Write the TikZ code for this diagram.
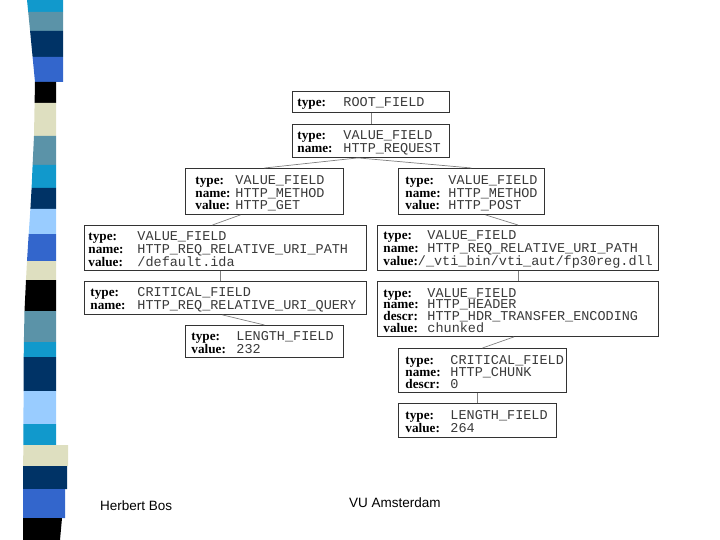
\documentclass[tikz,border=0pt]{standalone}
\usepackage{fontspec}
\setmainfont{Liberation Serif}
\newfontfamily\monof{Liberation Mono}
\newfontfamily\sansf{Liberation Sans}
\definecolor{valgray}{HTML}{3A3A3A}
\definecolor{scyan}{HTML}{1199CC}
\definecolor{steal}{HTML}{5B93A8}
\definecolor{snavy}{HTML}{003366}
\definecolor{sblue}{HTML}{3366CC}
\definecolor{sbeige}{HTML}{DEDFC0}
\definecolor{slight}{HTML}{99CCFF}
\newlength\tabw
\newcommand\lbl[1]{{\bfseries #1}}
\newcommand\rw[2]{\makebox[\tabw][l]{\lbl{#1}}{\monof\fontsize{13.5}{11.8}\selectfont\color{valgray}#2}\par}
\newcommand\rwn[2]{\lbl{#1}{\monof\fontsize{13.5}{11.8}\selectfont\color{valgray}#2}\par}
\newcommand\bt[4]{\begin{minipage}{\dimexpr#1pt-#2pt-#2pt\relax}\vspace*{3pt}\setlength\tabw{#3pt}\fontsize{13.2}{11.8}\selectfont #4\end{minipage}}
\tikzset{
  box/.style={draw=black!80, line width=0.9pt, inner sep=0pt, fill=white, anchor=north west},
  conn/.style={draw=black!50, line width=0.7pt},
  foot/.style={font=\sansf\fontsize{13.5}{16}\selectfont, inner sep=0pt, anchor=west}
}
\begin{document}
\begin{tikzpicture}[x=1pt,y=-1pt]
\useasboundingbox (0,0) rectangle (720,540);
% left stripe
\fill[scyan]  (27,0) -- (63,0) -- (63,12) -- (28.2,12) -- cycle;
\fill[steal]  (28.2,12) -- (63,12) -- (63,31) -- (30.1,31) -- cycle;
\fill[snavy]  (30.1,31) -- (63,31) -- (63,57) -- (32.6,57) -- cycle;
\fill[sblue]  (32.6,57) -- (63,57) -- (63,82) -- (35,82) -- cycle;
\fill[black]  (35,82) -- (56,82) -- (56,103) -- (34.6,103) -- cycle;
\fill[sbeige] (34.6,103) -- (56,103) -- (56,136) -- (34,136) -- cycle;
\fill[steal]  (34,136) -- (56,136) -- (56,165) -- (32.6,165) -- cycle;
\fill[scyan]  (32.6,165) -- (56,165) -- (56,188) -- (31.6,188) -- cycle;
\fill[snavy]  (31.6,188) -- (56,188) -- (56,209) -- (30.4,209) -- cycle;
\fill[slight] (30.4,209) -- (56,209) -- (56,234) -- (28.7,234) -- cycle;
\fill[sblue]  (28.7,234) -- (56,234) -- (56,261) -- (27,261) -- cycle;
\fill[sbeige] (27,261) -- (56,261) -- (56,280) -- (26,280) -- cycle;
\fill[black]  (26,280) -- (56,280) -- (56,311) -- (24.5,311) -- cycle;
\fill[steal]  (24.5,311) -- (56,311) -- (56,342) -- (23.9,342) -- cycle;
\fill[scyan]  (23.9,342) -- (56,342) -- (56,357) -- (23.7,357) -- cycle;
\fill[snavy]  (23.7,357) -- (56,357) -- (56,391) -- (23.6,391) -- cycle;
\fill[slight] (23.6,391) -- (56,391) -- (56,424) -- (23.4,424) -- cycle;
\fill[scyan]  (23.4,424) -- (56,424) -- (56,445) -- (23.3,445) -- cycle;
\fill[sbeige] (23.3,445) -- (68,445) -- (68,466) -- (23.2,466) -- cycle;
\fill[snavy]  (23.2,466) -- (67,466) -- (67,489) -- (23.1,489) -- cycle;
\fill[sblue]  (23.1,489) -- (65,489) -- (65,518) -- (23,518) -- cycle;
\fill[black]  (23,518) -- (62,518) -- (60,540) -- (23,540) -- cycle;
% boxes
\node[box, minimum width=157pt, minimum height=21pt] (A) at (292,91)
  {\bt{157}{5}{46}{\rw{type:}{ROOT\_FIELD}}};
\node[box, minimum width=157pt, minimum height=33pt] (B) at (292,124)
  {\bt{157}{5}{46}{\rw{type:}{VALUE\_FIELD}\rw{name:}{HTTP\_REQUEST}}};
\node[box, minimum width=158pt, minimum height=46pt] (C) at (185,168)
  {\bt{158}{10}{40}{\rw{type:}{VALUE\_FIELD}\rw{name:}{HTTP\_METHOD}\rw{value:}{HTTP\_GET}}};
\node[box, minimum width=146pt, minimum height=46pt] (D) at (398,168)
  {\bt{146}{7}{43}{\rw{type:}{VALUE\_FIELD}\rw{name:}{HTTP\_METHOD}\rw{value:}{HTTP\_POST}}};
\node[box, minimum width=282pt, minimum height=45pt] (E) at (84,225)
  {\bt{282}{4}{49}{\rw{type:}{VALUE\_FIELD}\rw{name:}{HTTP\_REQ\_RELATIVE\_URI\_PATH}\rw{value:}{/default.ida}}};
\node[box, minimum width=281pt, minimum height=45pt] (F) at (377,225)
  {\bt{281}{6}{44}{\rw{type:}{VALUE\_FIELD}\rw{name:}{HTTP\_REQ\_RELATIVE\_URI\_PATH}\rwn{value:}{/\_vti\_bin/vti\_aut/fp30reg.dll}}};
\node[box, minimum width=282pt, minimum height=33pt] (G) at (84,281)
  {\bt{282}{6}{47}{\rw{type:}{CRITICAL\_FIELD}\rw{name:}{HTTP\_REQ\_RELATIVE\_URI\_QUERY}}};
\node[box, minimum width=281pt, minimum height=55pt] (H) at (377,281)
  {\bt{281}{6}{44}{\rw{type:}{VALUE\_FIELD}\rw{name:}{HTTP\_HEADER}\rw{descr:}{HTTP\_HDR\_TRANSFER\_ENCODING}\rw{value:}{chunked}}};
\node[box, minimum width=158pt, minimum height=32pt] (I) at (185,325)
  {\bt{158}{6}{45}{\rw{type:}{LENGTH\_FIELD}\rw{value:}{232}}};
\node[box, minimum width=168pt, minimum height=44pt] (J) at (398,348)
  {\bt{168}{7}{45}{\rw{type:}{CRITICAL\_FIELD}\rw{name:}{HTTP\_CHUNK}\rw{descr:}{0}}};
\node[box, minimum width=158pt, minimum height=34pt] (K) at (398,403)
  {\bt{158}{7}{45}{\rw{type:}{LENGTH\_FIELD}\rw{value:}{264}}};
% connectors
\draw[conn] (A.south) -- (B.north);
\draw[conn] ([xshift=-13pt]B.south) -- (C.north);
\draw[conn] ([xshift=-13pt]B.south) -- (D.north);
\draw[conn] ([xshift=-24pt]C.south) -- ([xshift=-13pt]E.north);
\draw[conn] ([xshift=14pt]D.south) -- (F.north);
\draw[conn] ([xshift=-5pt]E.south) -- ([xshift=-5pt]G.north);
\draw[conn] (F.south) -- (H.north);
\draw[conn] ([xshift=-3pt]G.south) -- (I.north);
\draw[conn] ([xshift=-4pt]H.south) -- (J.north);
\draw[conn] (J.south -| K.north) -- (K.north);
% footer
\node[foot] (author) at (100,506) {Herbert Bos};
\node[foot] (uni) at (349,503) {VU Amsterdam};
\end{tikzpicture}
\end{document}
